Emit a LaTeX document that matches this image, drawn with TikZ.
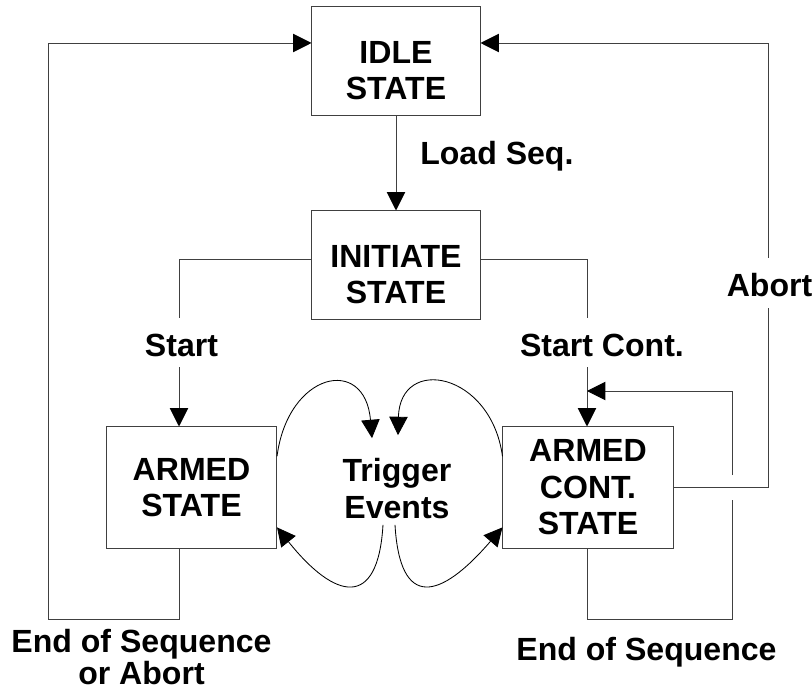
\documentclass[tikz,border=0pt]{standalone}
\usepackage{fontspec}
\setmainfont{Liberation Sans}
\usetikzlibrary{arrows.meta}

\begin{document}
\begin{tikzpicture}[
  x=0.025cm, y=-0.025cm,
  stbox/.style={draw=black!75, line width=0.7pt, minimum width=4.2cm, minimum height=2.7cm,
  align=center, inner sep=0pt, font=\bfseries\fontsize{22.8pt}{26pt}\selectfont},
  armbox/.style={stbox, minimum width=4.25cm, minimum height=3.025cm},
  lbl/.style={font=\bfseries\fontsize{22.8pt}{26pt}\selectfont, inner sep=0pt, align=center},
  wire/.style={draw=black!75, line width=0.7pt},
  arr/.style={wire, -{Triangle[length=0.46cm,width=0.46cm,black]}},
  curv/.style={draw=black, line width=0.6pt, -{Triangle[length=0.46cm,width=0.46cm]}}
]
\useasboundingbox (0,0) rectangle (812,690);
% states
\node[stbox] (idle) at (396,61) {\rule{0pt}{1.025cm}IDLE\\STATE};
\node[stbox] (init) at (396,265) {\rule{0pt}{1.025cm}INITIATE\\STATE};
\node[armbox] (armed) at (191.5,487.5) {ARMED\\STATE};
\node[armbox] (armedc) at (588,487.5) {ARMED\\CONT.\\STATE};
\node[lbl, inner sep=0.15cm] (trig) at (397,488.5) {Trigger\\Events};
% labels
\node[lbl, anchor=base west] (load) at (420,165) {Load Seq.};
\node[lbl, anchor=base] (start) at (181.5,357) {Start};
\node[lbl, anchor=base] (startc) at (602,357) {Start Cont.};
\node[lbl, anchor=base] (abort) at (769.5,297) {Abort};
\node[lbl, anchor=north] (eosa) at (141.5,629) {End of Sequence\\[-3.6pt]or Abort};
\node[lbl, anchor=base] (eos) at (646.5,660) {End of Sequence};
% free ends of the broken lines
\coordinate (sa) at (179,318);
\coordinate (sb) at (179,367);
\coordinate (ca) at (587,318);
\coordinate (cb) at (587,367);
\coordinate (lret) at (48,619);
\coordinate (aa) at (768,308);
\coordinate (ab) at (768,258);
\coordinate (ed) at (732,619);
\coordinate (ea) at (732,500);
\coordinate (eb) at (732,475);
\coordinate (ec) at (587,391);
% transitions
\draw[arr] (idle) -- (init);
\draw[wire] ([yshift=0.15cm]init.west) -| (sa);
\draw[arr] (sb) -- (sb |- armed.north);
\draw[wire] ([yshift=0.15cm]init.east) -| (ca);
\draw[arr] (cb) -- (cb |- armedc.north);
\draw[arr] (armed.south -| sb) |- (lret) |- ([yshift=0.45cm]idle.west);
\draw[wire] (armedc.east) -| (aa);
\draw[arr] (ab) |- ([yshift=0.45cm]idle.east);
\draw[wire] (armedc.south -| cb) |- (ed) -- (ea);
\draw[arr] (eb) |- (ec);
% trigger loops
\draw[curv] (armed.20) .. controls (288,372) and (365,355) .. ([shift={(-25,-14)}]trig.north);
\draw[curv] (armedc.160) .. controls (491,372) and (400,355) .. ([shift={(1,-17)}]trig.north);
\draw[curv] ([xshift=-0.35cm]trig.south) .. controls (378,610) and (335,600) .. (armed.-25);
\draw[curv] ([xshift=-0.05cm]trig.south) .. controls (400,610) and (440,600) .. (armedc.-155);
\end{tikzpicture}
\end{document}
